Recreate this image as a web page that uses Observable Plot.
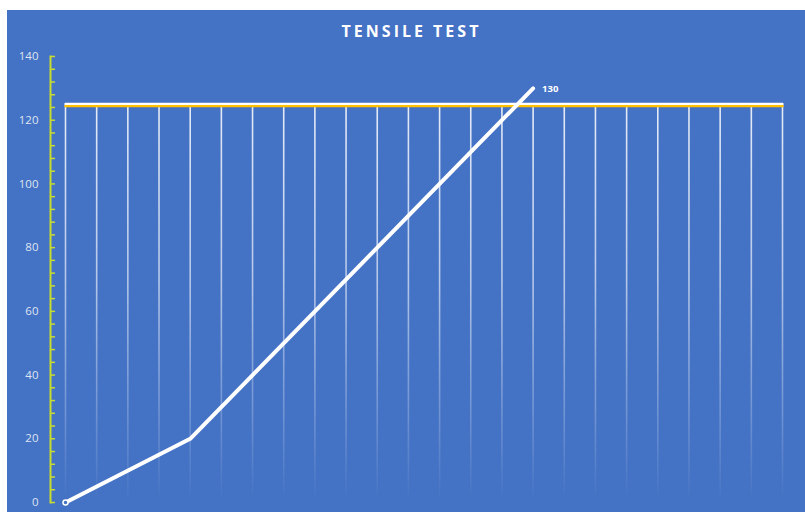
<!DOCTYPE html>
<html><head><meta charset="utf-8">
<script src="https://cdn.jsdelivr.net/npm/d3@7"></script>
<script src="https://cdn.jsdelivr.net/npm/@observablehq/plot@0.6"></script>
<style>
html,body{margin:0;padding:0;background:#fff;}
#wrap{position:absolute;left:7px;top:10px;width:798px;height:502px;background:#4472c4;overflow:hidden;}
#title{height:40px;text-align:center;padding-left:11px;box-sizing:border-box;color:#fff;font:700 16px "Open Sans";line-height:42px;letter-spacing:3px;}
svg{display:block}
</style></head><body>
<div id="wrap"><div id="title">TENSILE TEST</div><div id="chart"></div></div>
<script>
// categories along the x axis
const categories = [0,1,2,3,4,5,6,7,8,9,10,11,12,13,14,15,16,17,18,19,20,21,22,23];
// constant limit series (with drop lines)
const limitValues = [125,125,125,125,125,125,125,125,125,125,125,125,125,125,125,125,125,125,125,125,125,125,125,125];
// tensile curve
const curveX = [0, 4, 15];
const curveY = [0, 20, 130];
// y tick labels
const yTicks = [0, 20, 40, 60, 80, 100, 120, 140];
const yMinorTicks = [0,4,8,12,16,20,24,28,32,36,40,44,48,52,56,60,64,68,72,76,80,84,88,92,96,100,104,108,112,116,120,124,128,132,136,140];

const limitData = categories.map((c, i) => ({x: c, y: limitValues[i]}));
const curveData = curveX.map((x, i) => ({x, y: curveY[i]}));
const lastPt = curveData[curveData.length - 1];

const axisYellow = "#c8dc30";
const tickSymbol = {draw(ctx) { ctx.moveTo(0, 0); ctx.lineTo(4.5, 0); }};

const chart = Plot.plot({
  width: 798,
  height: 462,
  marginTop: 6,
  marginBottom: 10,
  marginLeft: 43,
  marginRight: 23,
  style: {background: "transparent", fontFamily: "Open Sans", overflow: "visible"},
  x: {domain: [0, 23], insetLeft: 15, axis: null},
  y: {domain: [0, 140], axis: null},
  marks: [
    Plot.ruleX(limitData, {x: "x", y1: "y", y2: 0, stroke: "url(#dropFade)", strokeWidth: 1.6}),
    Plot.lineY(limitData, {x: "x", y: "y", stroke: "#ffc000", strokeWidth: 2.5, dy: 1.8}),
    Plot.lineY(limitData, {x: "x", y: "y", stroke: "#ffffff", strokeWidth: 2.2, dy: -0.4}),
    Plot.frame({anchor: "left", stroke: axisYellow, strokeWidth: 2}),
    Plot.dot(yMinorTicks, {y: d => d, frameAnchor: "left", symbol: tickSymbol, stroke: axisYellow, strokeWidth: 1.5, fill: "none"}),
    Plot.axisY({ticks: yTicks, tickSize: 0, tickPadding: 12, fontSize: 11.5, fill: "#dfe5f2", label: null, tickFormat: d => d}),
    Plot.line(curveData, {x: "x", y: "y", stroke: "#ffffff", strokeWidth: 4, strokeLinejoin: "round"}),
    Plot.dot([curveData[0]], {x: "x", y: "y", r: 2.5, stroke: "#ffffff", strokeWidth: 1.5, fill: "#4472c4"}),
    Plot.text([lastPt], {x: "x", y: "y", text: d => String(d.y), dx: 9, dy: 1, textAnchor: "start", fontWeight: "bold", fontSize: 9.5, fill: "#ffffff"})
  ]
});

const yScale = chart.scale("y");
const gTop = yScale.apply(125), gBottom = yScale.apply(0);
const svg = d3.select(chart);
const grad = svg.insert("defs", ":first-child").append("linearGradient")
  .attr("id", "dropFade").attr("gradientUnits", "userSpaceOnUse")
  .attr("x1", 0).attr("x2", 0).attr("y1", gTop).attr("y2", gBottom);
grad.append("stop").attr("offset", 0).attr("stop-color", "#eef2fa").attr("stop-opacity", 0.95);
grad.append("stop").attr("offset", 0.45).attr("stop-color", "#e4ebf8").attr("stop-opacity", 0.7);
grad.append("stop").attr("offset", 0.8).attr("stop-color", "#c8d6f0").attr("stop-opacity", 0.3);
grad.append("stop").attr("offset", 1).attr("stop-color", "#c8d6f0").attr("stop-opacity", 0);

document.getElementById("chart").appendChild(chart);
</script>
</body></html>
